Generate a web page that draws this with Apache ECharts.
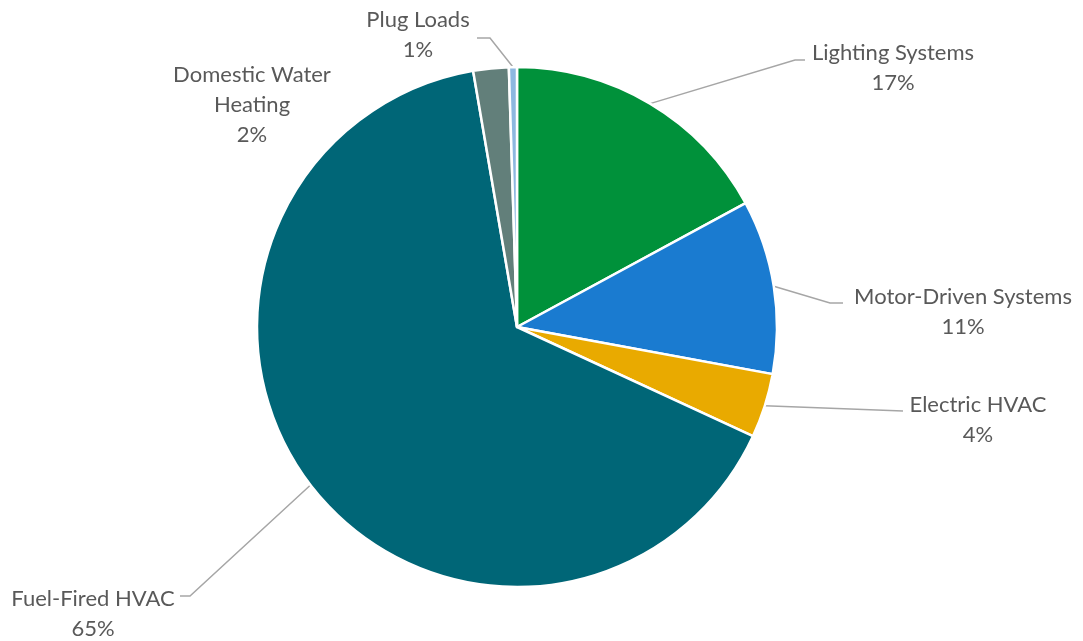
<!DOCTYPE html>
<html>
<head>
<meta charset="utf-8">
<script src="https://cdn.jsdelivr.net/npm/echarts@6/dist/echarts.min.js"></script>
<style>html,body{margin:0;padding:0;background:#fff}#c{width:1083px;height:641px}</style>
</head>
<body>
<div id="c"></div>
<script>
const categories = ['Lighting Systems', 'Motor-Driven Systems', 'Electric HVAC', 'Fuel-Fired HVAC', 'Domestic Water Heating', 'Plug Loads'];
const values = [17.1, 10.8, 4.0, 65.4, 2.2, 0.5];
const colors = ['#00913A', '#1A7BD0', '#E9AA00', '#006677', '#627F7A', '#8DB8E0'];
const labelNames = ['Lighting Systems', 'Motor-Driven Systems', 'Electric HVAC', 'Fuel-Fired HVAC', 'Domestic Water\nHeating', 'Plug Loads'];
// label anchor positions (layout only)
const labelPos = [[893, 68], [963, 312], [978, 420], [93, 614], [252, 105], [418, 35]];
const elbowPts = [[[795, 60], [805, 60]], [[830, 303], [843, 303]], [[903, 411], [903, 411]], [[190, 596], [180, 596]], null, [[490, 38], [477, 38]]];

const chart = echarts.init(document.getElementById('c'), null, {renderer: 'canvas'});
const data = categories.map((c, i) => ({
  name: c,
  value: values[i],
  itemStyle: {color: colors[i]},
  label: {formatter: labelNames[i] + '\n' + Math.round(values[i]) + '%'},
  labelLine: {show: elbowPts[i] !== null}
}));
chart.setOption({
  animation: false,
  series: [{
    type: 'pie',
    center: [517, 327],
    radius: 260,
    startAngle: 90,
    clockwise: true,
    avoidLabelOverlap: false,
    itemStyle: {borderColor: '#ffffff', borderWidth: 2.5},
    label: {
      show: true,
      fontFamily: 'Lato, "Open Sans", sans-serif',
      fontSize: 22,
      lineHeight: 30,
      color: '#595959',
      align: 'center'
    },
    labelLine: {show: true, lineStyle: {color: '#A6A6A6', width: 1.5}, length: 20, length2: 10},
    labelLayout: function (p) {
      const i = p.dataIndex;
      const out = {x: labelPos[i][0], y: labelPos[i][1], align: 'center', verticalAlign: 'middle'};
      if (elbowPts[i] && p.labelLinePoints) {
        out.labelLinePoints = [p.labelLinePoints[0], elbowPts[i][0], elbowPts[i][1]];
      }
      return out;
    },
    data: data
  }]
});
</script>
</body>
</html>
